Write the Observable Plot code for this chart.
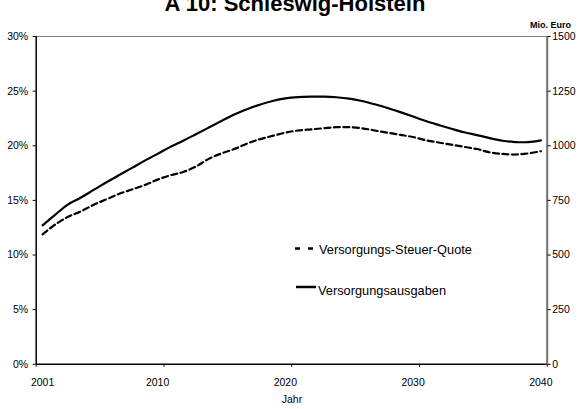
<!DOCTYPE html>
<html><head><meta charset="utf-8">
<script src="https://cdn.jsdelivr.net/npm/d3@7"></script>
<script src="https://cdn.jsdelivr.net/npm/@observablehq/plot@0.6"></script>
<style>
body{margin:0;background:#fff;}
#wrap{position:relative;width:580px;height:409px;overflow:hidden;background:#fff;}
#wrap svg{position:absolute;left:0;top:0;}
</style></head><body><div id="wrap"></div>
<script>
const years = d3.range(2001, 2041);
// Versorgungs-Steuer-Quote (%), left axis
const quote = [11.9,12.8,13.5,14.0,14.6,15.1,15.6,16.0,16.4,16.9,17.3,17.6,18.1,18.8,19.3,19.7,20.2,20.6,20.9,21.2,
               21.4,21.5,21.6,21.7,21.7,21.6,21.4,21.2,21.0,20.8,20.5,20.3,20.1,19.9,19.7,19.4,19.25,19.2,19.3,19.5];
// Versorgungsausgaben (Mio. Euro), right axis
const ausgaben = [636,685,732,763,798,833,866,899,932,963,995,1023,1053,1083,1113,1143,1167,1188,1205,1217,
                  1223,1225,1225,1222,1216,1205,1190,1173,1154,1134,1113,1095,1078,1062,1049,1035,1023,1017,1017,1025];
const xTickBounds = [2000.5, 2010.5, 2020.5, 2030.5, 2040.5];
const xLabelYears = [2001, 2010, 2020, 2030, 2040];
const pctTicks = [0, 5, 10, 15, 20, 25, 30];
const mioTicks = [0, 250, 500, 750, 1000, 1250, 1500];
const mioPerPct = 50; // 1500 Mio. Euro <-> 30 %
const titleText = "A 10: Schleswig-Holstein";
const unitText = "Mio. Euro";
const xLabel = "Jahr";
const legendQuote = "Versorgungs-Steuer-Quote";
const legendAusgaben = "Versorgungsausgaben";

const rows = years.map((y, i) => ({year: y, quote: quote[i], mio: ausgaben[i]}));
const FONT = "'Liberation Sans', Arial, sans-serif";

const chart = Plot.plot({
  width: 580, height: 409,
  marginLeft: 35.7, marginRight: 33.3, marginTop: 36, marginBottom: 45.2,
  style: {fontFamily: FONT, fontSize: "10.5px", color: "#000", background: "#fff", overflow: "visible"},
  x: {domain: [2000.5, 2040.5]},
  y: {domain: [0, 30]},
  marks: [
    Plot.ruleY([30], {stroke: "#808080", strokeWidth: 1}),
    Plot.ruleX([2040.5], {stroke: "#707070", strokeWidth: 2}),
    Plot.axisY(pctTicks, {anchor: "left", tickSize: 3, tickPadding: 5, tickFormat: d => d + "%", label: null}),
    Plot.axisY(mioTicks.map(v => v / mioPerPct), {anchor: "right", tickSize: 3, tickPadding: 2, tickFormat: d => String(Math.round(d * mioPerPct)), label: null}),
    Plot.axisX(xTickBounds, {tickSize: 3, tickFormat: () => "", label: null}),
    Plot.axisX(xLabelYears, {tickSize: 0, tickPadding: 14, tickFormat: d => String(d), label: null}),
    Plot.ruleX([2000.5], {stroke: "#000", strokeWidth: 1.5}),
    Plot.ruleY([0], {stroke: "#000", strokeWidth: 1.5}),
    Plot.line(rows, {x: "year", y: "quote", stroke: "#000", strokeWidth: 2.2, strokeDasharray: "6,3.5", curve: "catmull-rom"}),
    Plot.line(rows, {x: "year", y: d => d.mio / mioPerPct, stroke: "#000", strokeWidth: 2.2, curve: "catmull-rom"})
  ]
});
const wrap = document.getElementById("wrap");
wrap.appendChild(chart);

// overlay texts (title, unit, axis title, legend)
const ov = d3.select(wrap).append("svg").attr("width", 580).attr("height", 409)
  .style("font-family", FONT).style("overflow", "visible");
ov.append("text").attr("x", 295).attr("y", 11).attr("text-anchor", "middle")
  .style("font-weight", "bold").style("font-size", "22px").text(titleText);
ov.append("text").attr("x", 550.5).attr("y", 28).attr("text-anchor", "middle")
  .style("font-weight", "bold").style("font-size", "9px").text(unitText);
ov.append("text").attr("x", 292).attr("y", 403).attr("text-anchor", "middle")
  .style("font-size", "10.5px").text(xLabel);
ov.append("line").attr("x1", 295).attr("x2", 316).attr("y1", 248.5).attr("y2", 248.5)
  .attr("stroke", "#000").attr("stroke-width", 2.5).attr("stroke-dasharray", "5,8");
ov.append("text").attr("x", 319).attr("y", 254).style("font-size", "12.8px").text(legendQuote);
ov.append("line").attr("x1", 296).attr("x2", 316).attr("y1", 287).attr("y2", 287)
  .attr("stroke", "#000").attr("stroke-width", 2.5);
ov.append("text").attr("x", 318).attr("y", 295).style("font-size", "12.8px").text(legendAusgaben);
</script>
</body></html>
